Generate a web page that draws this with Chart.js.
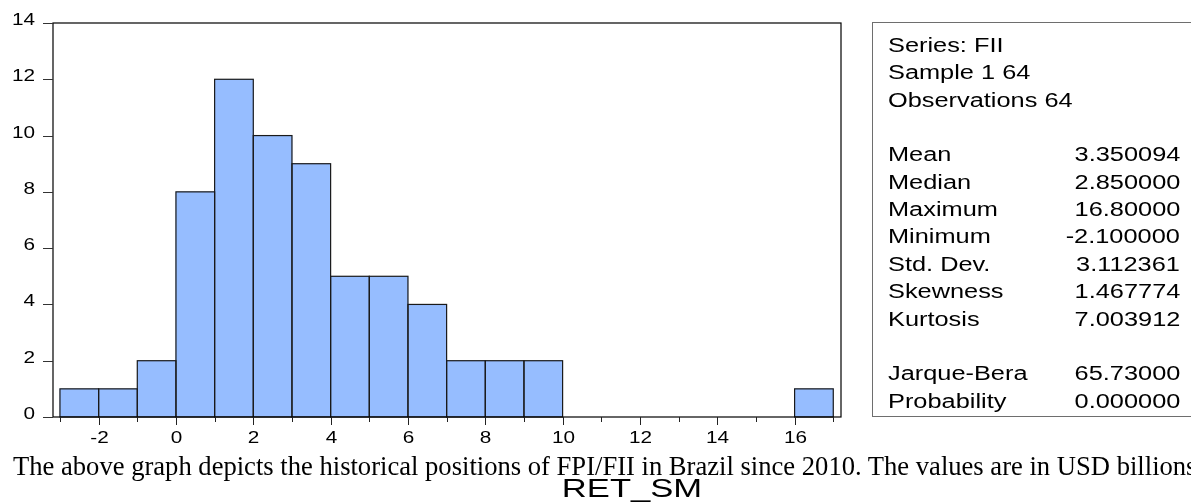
<!DOCTYPE html>
<html>
<head>
<meta charset="utf-8">
<script src="https://cdn.jsdelivr.net/npm/chart.js@4.4.1/dist/chart.umd.min.js"></script>
<style>
  html, body { margin: 0; padding: 0; background: #fff; }
  body { width: 1191px; height: 503px; overflow: hidden; position: relative; }
  #chartBox { position: absolute; left: 0; top: 0; width: 1191px; height: 503px; }
  #stats {
    position: absolute; left: 872px; top: 22px; width: 400px; height: 395px;
    border: 1.5px solid #6e6e6e; box-sizing: border-box;
  }
  .srow { position: absolute; height: 0; white-space: nowrap;
    font-family: "Liberation Sans", Arial, sans-serif; font-size: 19.5px; color: #000; }
  .srow span { position: absolute; top: -12px; line-height: 24px; }
  .lab { left: 888px; transform: scaleX(1.3); transform-origin: left center; }
  .val { right: 11px; transform: scaleX(1.3); transform-origin: right center; }
  #caption {
    position: absolute; left: 13px; top: 451px; white-space: nowrap;
    font-family: "Liberation Serif", "Times New Roman", serif; font-size: 26.6px; line-height: 30px; color: #000;
  }
  #seriesName {
    position: absolute; left: 632px; top: 474px; white-space: nowrap;
    font-family: "Liberation Sans", Arial, sans-serif; font-size: 26px; line-height: 28px; color: #000;
    transform: translateX(-50%) scaleX(1.33); transform-origin: center center;
  }
</style>
</head>
<body>
<div id="chartBox"><canvas id="hist" width="1191" height="503"></canvas></div>
<div id="stats"></div>
<div id="statRows"></div>
<div id="caption"></div>
<div id="seriesName"></div>
<script>
// Histogram bins (left edge of each unit-wide bin) and observation counts
const binStart = [-3, -2, -1, 0, 1, 2, 3, 4, 5, 6, 7, 8, 9, 10, 11, 12, 13, 14, 15, 16];
const counts   = [ 1,  1,  2, 8, 12, 10, 9, 5, 5, 4, 2, 2, 2, 0, 0, 0, 0, 0, 0, 1];

// Axis tick labels
const xTickLabels = [-2, 0, 2, 4, 6, 8, 10, 12, 14, 16];
const xMinorTicks = [-3, -1, 1, 3, 5, 7, 9, 11, 13, 15, 17];
const yTickLabels = [0, 2, 4, 6, 8, 10, 12, 14];

// Descriptive statistics panel
const headerLines = ["Series: FII", "Sample 1 64", "Observations 64"];
const statNames   = ["Mean", "Median", "Maximum", "Minimum", "Std. Dev.", "Skewness", "Kurtosis"];
const statValues  = ["3.350094", "2.850000", "16.80000", "-2.100000", "3.112361", "1.467774", "7.003912"];
const testNames   = ["Jarque-Bera", "Probability"];
const testValues  = ["65.73000", "0.000000"];

const captionText = "The above graph depicts the historical positions of FPI/FII in Brazil since 2010. The values are in USD billions";
const seriesLabel = "RET_SM";

// ---- text panel ----
(function buildStats() {
  const host = document.getElementById('statRows');
  const rows = [];
  headerLines.forEach(t => rows.push([t, '']));
  rows.push(null);
  statNames.forEach((t, i) => rows.push([t, statValues[i]]));
  rows.push(null);
  testNames.forEach((t, i) => rows.push([t, testValues[i]]));
  rows.forEach((r, i) => {
    if (!r) return;
    const div = document.createElement('div');
    div.className = 'srow';
    div.style.top = (45 + 27.35 * i) + 'px';
    div.style.left = '0px';
    div.style.width = '1191px';
    const a = document.createElement('span');
    a.className = 'lab'; a.textContent = r[0];
    div.appendChild(a);
    if (r[1]) {
      const b = document.createElement('span');
      b.className = 'val'; b.textContent = r[1];
      div.appendChild(b);
    }
    host.appendChild(div);
  });
  document.getElementById('caption').textContent = captionText;
  document.getElementById('seriesName').textContent = seriesLabel;
})();

// ---- chart ----
const FONT = '"Liberation Sans", Arial, sans-serif';
const STRETCH = 1.22;

function stretchedText(ctx, text, x, y, align) {
  ctx.save();
  ctx.translate(x, y);
  ctx.scale(STRETCH, 1);
  ctx.textAlign = align;
  ctx.textBaseline = 'middle';
  ctx.fillText(text, 0, 0);
  ctx.restore();
}

const histDecor = {
  id: 'histDecor',
  afterDatasetsDraw(chart) {
    const ctx = chart.ctx;
    const meta = chart.getDatasetMeta(0);
    // outline each bar so shared edges stay a single line
    ctx.save();
    ctx.strokeStyle = '#1a1a1a';
    ctx.lineWidth = 1.2;
    meta.data.forEach(el => {
      const p = el.getProps(['x', 'y', 'base', 'width'], true);
      if (p.y == null || isNaN(p.y) || p.base === p.y) return;
      ctx.strokeRect(p.x - p.width / 2, p.y, p.width, p.base - p.y);
    });
    ctx.restore();
  },
  afterDraw(chart) {
    const ctx = chart.ctx;
    const a = chart.chartArea;
    const xs = chart.scales.x, ys = chart.scales.y;
    ctx.save();
    // plot frame
    ctx.strokeStyle = '#000';
    ctx.lineWidth = 1.2;
    ctx.strokeRect(a.left, a.top, a.right - a.left, a.bottom - a.top);
    // y ticks + labels
    ctx.strokeStyle = '#333';
    ctx.lineWidth = 1;
    ctx.fillStyle = '#000';
    ctx.font = '17px ' + FONT;
    yTickLabels.forEach(v => {
      const py = Math.round(ys.getPixelForValue(v)) + 0.5;
      ctx.beginPath(); ctx.moveTo(a.left - 10, py); ctx.lineTo(a.left, py); ctx.stroke();
      stretchedText(ctx, String(v), 35, py - 3, 'right');
    });
    // x ticks + labels
    ctx.strokeStyle = '#222';
    xTickLabels.forEach(v => {
      const px = Math.round(xs.getPixelForValue(v)) + 0.5;
      ctx.beginPath(); ctx.moveTo(px, a.bottom); ctx.lineTo(px, a.bottom + 8); ctx.stroke();
      stretchedText(ctx, String(v), px, 438, 'center');
    });
    xMinorTicks.forEach(v => {
      const px = Math.round(xs.getPixelForValue(v)) + 0.5;
      ctx.beginPath(); ctx.moveTo(px, a.bottom); ctx.lineTo(px, a.bottom + 5); ctx.stroke();
    });
    ctx.restore();
  }
};

new Chart(document.getElementById('hist'), {
  type: 'bar',
  data: {
    datasets: [{
      data: binStart.map((b, i) => ({ x: b + 0.5, y: counts[i] > 0 ? counts[i] : null })),
      backgroundColor: '#96bdff',
      borderWidth: 0,
      barPercentage: 1,
      categoryPercentage: 1
    }]
  },
  options: {
    responsive: false,
    animation: false,
    events: [],
    layout: { padding: { left: 0, top: 23, right: 350, bottom: 0 } },
    plugins: { legend: { display: false }, tooltip: { enabled: false } },
    scales: {
      x: {
        type: 'linear', min: -3.18, max: 17.2, offset: false,
        grid: { display: false, drawTicks: false },
        border: { display: false },
        ticks: { display: false },
        afterFit: s => { s.height = 86; }
      },
      y: {
        min: 0, max: 14,
        grid: { display: false, drawTicks: false },
        border: { display: false },
        ticks: { display: false },
        afterFit: s => { s.width = 53; }
      }
    }
  },
  plugins: [histDecor]
});
</script>
</body>
</html>
